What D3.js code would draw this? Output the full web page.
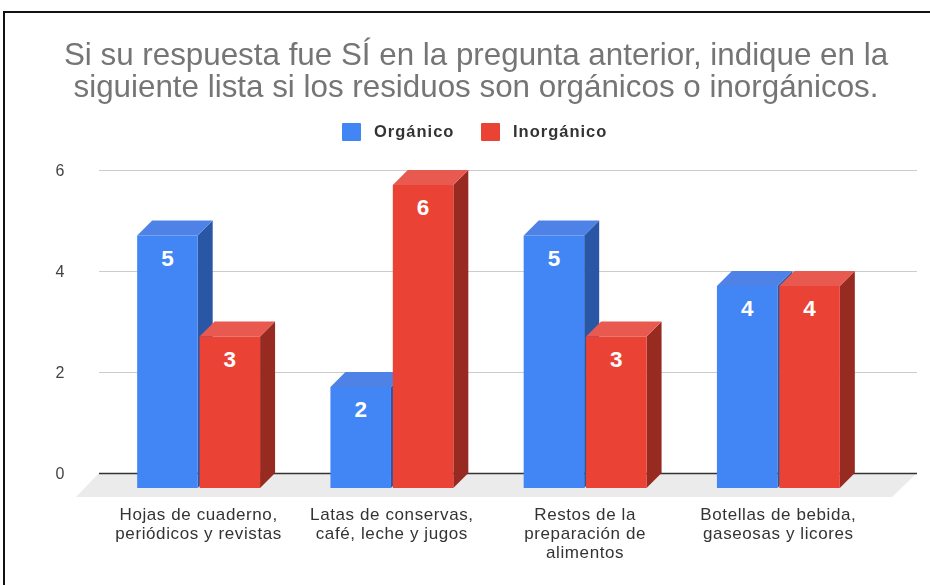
<!DOCTYPE html>
<html>
<head>
<meta charset="utf-8">
<script src="https://cdn.jsdelivr.net/npm/d3@7"></script>
<style>
  html, body { margin: 0; padding: 0; background: #fff; }
  /* the reference is a soft, rescaled screenshot */
  svg { display: block; font-family: "Liberation Sans", Arial, sans-serif; filter: blur(0.4px); }
</style>
</head>
<body>
<div id="chart"></div>
<script>
// chart values
var categories = [
  ["Hojas de cuaderno,", "periódicos y revistas"],
  ["Latas de conservas,", "café, leche y jugos"],
  ["Restos de la", "preparación de", "alimentos"],
  ["Botellas de bebida,", "gaseosas y licores"]
];
var seriesNames = ["Orgánico", "Inorgánico"];
var organico = [5, 2, 5, 4];
var inorganico = [3, 6, 3, 4];
var yTicks = [0, 2, 4, 6];
var titleLines = [
  "Si su respuesta fue SÍ en la pregunta anterior, indique en la",
  "siguiente lista si los residuos son orgánicos o inorgánicos."
];

var width = 930, height = 585;
var depth = 15; // 3d offset of the bars
var colors = {
  front: ["#4285f4", "#ea4335"],
  top: ["#4f82e6", "#e8594f"],
  side: ["#2a56a6", "#972b22"]
};

var svg = d3.select("#chart").append("svg")
  .attr("width", width)
  .attr("height", height);

// frame round the screenshot
svg.append("path")
  .attr("d", "M4," + height + "V12H" + width)
  .attr("fill", "none")
  .attr("stroke", "#111")
  .attr("stroke-width", 2);

// title
svg.append("g").selectAll("text")
  .data(titleLines)
  .enter().append("text")
    .attr("x", 476)
    .attr("y", function(d, i) { return 65 + i * 32; })
    .attr("text-anchor", "middle")
    .attr("font-size", 31.35)
    .attr("fill", "#757575")
    .text(function(d) { return d; });

// legend
var legendX = [342, 481];
var legend = svg.append("g").selectAll("g")
  .data(seriesNames)
  .enter().append("g")
    .attr("transform", function(d, i) { return "translate(" + legendX[i] + ",123)"; });
legend.append("rect")
  .attr("width", 19)
  .attr("height", 18)
  .attr("rx", 1)
  .attr("fill", function(d, i) { return colors.front[i]; });
legend.append("text")
  .attr("x", 32)
  .attr("y", 14)
  .attr("font-size", 16.5)
  .attr("font-weight", "bold")
  .attr("letter-spacing", 1)
  .attr("fill", "#333")
  .text(function(d) { return d; });

// scales
var y = d3.scaleLinear().domain([0, 6]).range([473, 170]);
var x0 = d3.scaleBand()
  .domain(d3.range(categories.length))
  .range([102, 875])
  .paddingInner(0.364)
  .paddingOuter(0.182);
var x1 = d3.scaleBand()
  .domain(d3.range(seriesNames.length))
  .range([0, x0.bandwidth()])
  .paddingInner(0.03);

// floor of the 3d plot
svg.append("path")
  .attr("d", "M99," + y(0) + "H917L892," + (y(0) + depth + 9) + "H76Z")
  .attr("fill", "#ebebeb");

// y axis, the tick lines are the gridlines
var yAxis = svg.append("g")
  .attr("transform", "translate(99,0)")
  .call(d3.axisLeft(y).tickValues(yTicks).tickFormat(d3.format("d")).tickSize(-818).tickPadding(39));
yAxis.select(".domain").remove();
yAxis.selectAll(".tick line")
  .attr("stroke", function(d) { return d === 0 ? "#333" : "#ccc"; })
  .attr("stroke-width", function(d) { return d === 0 ? 1.5 : 1; });
yAxis.selectAll(".tick text")
  .attr("font-family", "Liberation Sans, Arial, sans-serif")
  .attr("font-size", 16)
  .attr("fill", "#444")
  .attr("text-anchor", "middle");

// bars
var rows = [];
categories.forEach(function(c, i) {
  rows.push({cat: i, s: 0, value: organico[i]});
  rows.push({cat: i, s: 1, value: inorganico[i]});
});

var bars = svg.append("g").selectAll("g")
  .data(rows)
  .enter().append("g")
    .attr("transform", function(d) { return "translate(" + (x0(d.cat) + x1(d.s)) + ",0)"; });

var bw = x1.bandwidth();

// side face
bars.append("path")
  .attr("fill", function(d) { return colors.side[d.s]; })
  .attr("d", function(d) {
    var t = y(d.value) + depth, b = y(0) + depth;
    return "M" + bw + "," + t + "l" + depth + "," + (-depth) + "V" + y(0) + "L" + bw + "," + b + "Z";
  });
// top face
bars.append("path")
  .attr("fill", function(d) { return colors.top[d.s]; })
  .attr("d", function(d) {
    var t = y(d.value) + depth;
    return "M0," + t + "l" + depth + "," + (-depth) + "h" + bw + "l" + (-depth) + "," + depth + "Z";
  });
// front face
bars.append("rect")
  .attr("y", function(d) { return y(d.value) + depth; })
  .attr("width", bw)
  .attr("height", function(d) { return y(0) - y(d.value); })
  .attr("fill", function(d) { return colors.front[d.s]; });
// value labels
bars.append("text")
  .attr("x", bw / 2)
  .attr("y", function(d) { return y(d.value) + depth + 30; })
  .attr("text-anchor", "middle")
  .attr("font-size", 22.5)
  .attr("font-weight", "bold")
  .attr("fill", "#fff")
  .text(function(d) { return d.value; });

// category labels
var catLabels = svg.append("g").selectAll("text")
  .data(categories)
  .enter().append("text")
    .attr("text-anchor", "middle")
    .attr("font-size", 17)
    .attr("letter-spacing", 0.6)
    .attr("fill", "#333");
catLabels.selectAll("tspan")
  .data(function(d, i) { return d.map(function(t) { return {t: t, cat: i}; }); })
  .enter().append("tspan")
    .attr("x", function(d) { return x0(d.cat) + x0.bandwidth() / 2; })
    .attr("y", function(d, i) { return 520 + i * 19; })
    .text(function(d) { return d.t; });
</script>
</body>
</html>
